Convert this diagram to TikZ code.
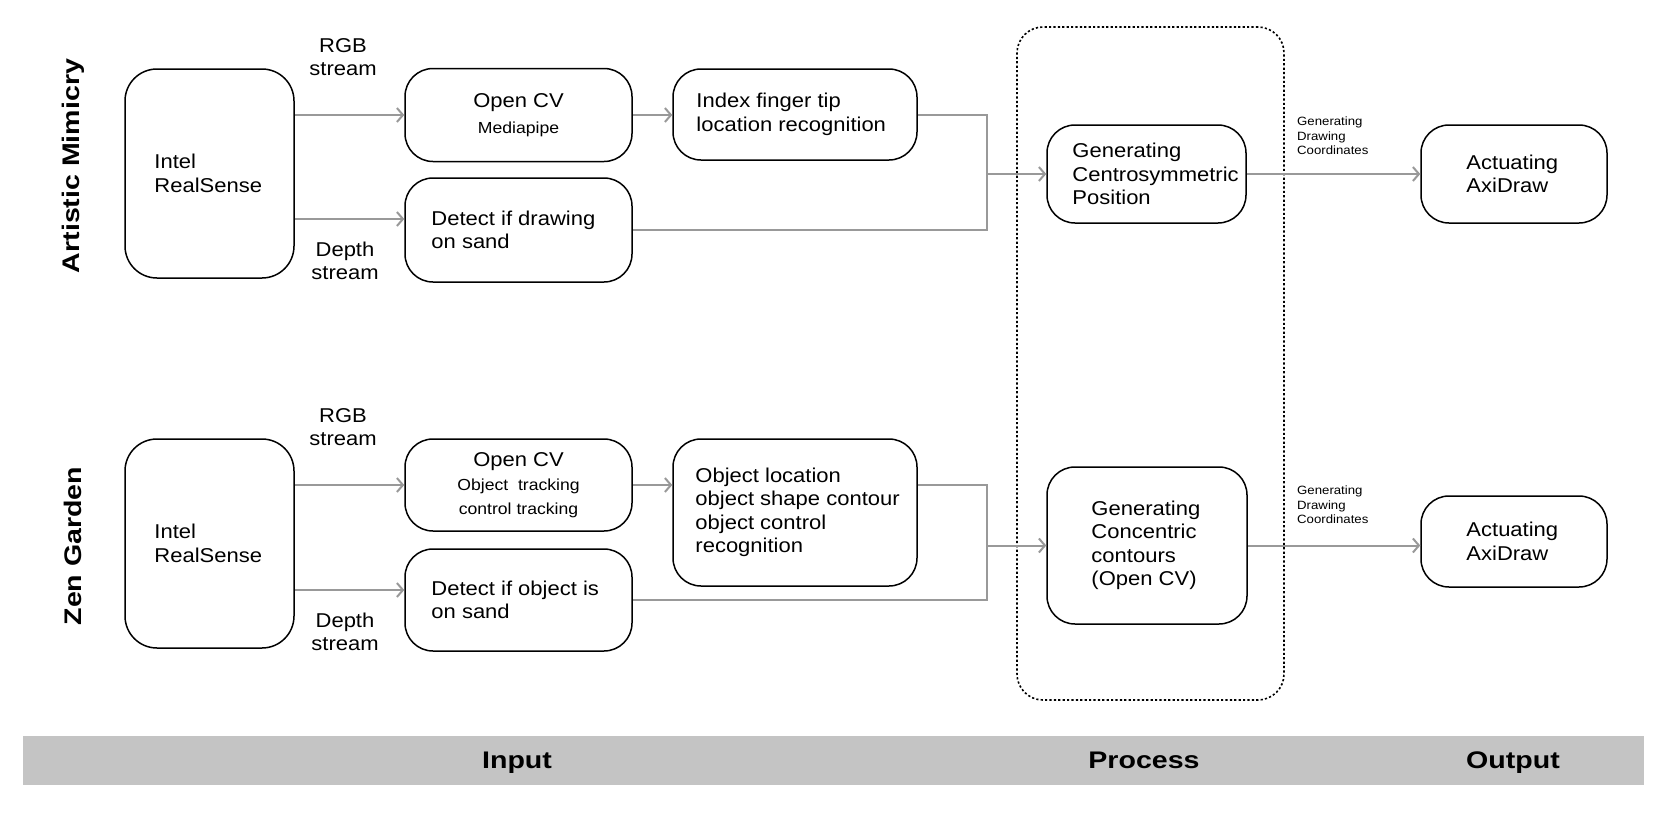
\documentclass[tikz,border=0pt]{standalone}
\usepackage{fontspec}
\setmainfont{Liberation Sans}[FakeStretch=1.1,BoldFeatures={FakeStretch=1.19}]
\usetikzlibrary{arrows.meta}
\definecolor{linegray}{HTML}{999999}
\definecolor{bargray}{HTML}{C4C4C4}
\newcommand\fmain{\fontsize{20}{23.5}\selectfont}
\newcommand\fsmall{\fontsize{16}{19}\selectfont}
\newcommand\ftiny{\fontsize{12}{14.5}\selectfont}
\newcommand\ftitle{\fontsize{24}{28}\selectfont}
\begin{document}
\begin{tikzpicture}[x=1pt,y=-1pt,
  box/.style={draw=black, line width=1.5pt, rounded corners=28pt, inner sep=0pt},
  txt/.style={inner sep=0pt, align=left, font=\fmain, anchor=west},
  ctxt/.style={inner sep=0pt, align=center},
  conn/.style={draw=linegray, line width=2pt},
  arr/.style={conn, -{Straight Barb[length=6pt,width=14pt]}},
  ttl/.style={inner sep=0pt, font=\ftitle\bfseries}
]
\useasboundingbox (0,0) rectangle (1666,830);

% process frame
\node[draw, line width=1.6pt, dash pattern=on 2.2pt off 2.2pt, rounded corners=26pt,
      minimum width=267, minimum height=673, inner sep=0pt] (proc) at (1150.5,363.5) {};

% titles
\node[ttl, rotate=90] (tA) at (73,166) {Artistic Mimicry};
\node[ttl, rotate=90] (tB) at (73,546) {Zen Garden};

% ---------- top row ----------
\node[box, minimum width=169, minimum height=209, rounded corners=32pt] (intelA) at (209.5,173.5) {};
\node[txt] (intelAt) at ([xshift=30]intelA.west) {Intel\\RealSense};
\node[box, minimum width=227, minimum height=93] (cvA) at (518.5,115) {};
\node[ctxt, font=\fmain] (cvAt) at (cvA) {Open CV\\[3pt]{\fsmall Mediapipe}};
\node[box, minimum width=227, minimum height=104] (detA) at (518.5,230) {};
\node[txt] (detAt) at ([xshift=27]detA.west) {Detect if drawing\\on sand};
\node[box, minimum width=244, minimum height=91] (idxA) at (795,114.5) {};
\node[txt] (idxAt) at ([xshift=24]idxA.west) {Index finger tip\\location recognition};
\node[box, minimum width=199, minimum height=98] (genA) at (1146.5,174) {};
\node[txt] (genAt) at ([xshift=26]genA.west) {Generating\\Centrosymmetric\\Position};
\node[box, minimum width=186, minimum height=98] (actA) at (1514,174) {};
\node[txt] (actAt) at ([xshift=46]actA.west) {Actuating\\AxiDraw};

\node[ctxt, font=\fmain] (rgbA) at (343,57) {RGB\\stream};
\node[ctxt, font=\fmain] (depA) at (345,261) {Depth\\stream};
\node[txt, font=\ftiny] (gdcA) at (1297,136) {Generating\\Drawing\\Coordinates};

\coordinate (dA) at ([yshift=11]detA.west);
\draw[arr] (intelA.east |- cvA.west) -- (cvA.west);
\draw[arr] (intelA.east |- dA) -- (dA);
\draw[arr] (cvA.east) -- (cvA.east -| idxA.west);
\coordinate (jA) at ([xshift=-59]genA.west);
\draw[conn] (idxA.east) -- (idxA.east -| jA) -- (detA.east -| jA) -- (detA.east);
\draw[arr] (jA) -- (genA.west);
\draw[arr] (genA.east) -- (actA.west);

% ---------- bottom row ----------
\node[box, minimum width=169, minimum height=209, rounded corners=32pt] (intelB) at (209.5,543.5) {};
\node[txt] (intelBt) at ([xshift=30]intelB.west) {Intel\\RealSense};
\node[box, minimum width=227, minimum height=92] (cvB) at (518.5,485) {};
\node[ctxt, font=\fmain] (cvBt) at (cvB) {Open CV\\[1pt]{\fsmall Object~ tracking}\\{\fsmall control tracking}};
\node[box, minimum width=227, minimum height=102] (detB) at (518.5,600) {};
\node[txt] (detBt) at ([xshift=27]detB.west) {Detect if object is\\on sand};
\node[box, minimum width=244, minimum height=147] (objB) at (795,512.5) {};
\node[txt] (objBt) at ([xshift=23]objB.west) {Object location\\object shape contour\\object control\\recognition};
\node[box, minimum width=200, minimum height=157] (genB) at (1147,545.5) {};
\node[txt] (genBt) at ([xshift=45]genB.west) {Generating\\Concentric\\contours\\(Open CV)};
\node[box, minimum width=186, minimum height=91] (actB) at (1514,541.5) {};
\node[txt] (actBt) at ([xshift=46]actB.west) {Actuating\\AxiDraw};

\node[ctxt, font=\fmain] (rgbB) at (343,427) {RGB\\stream};
\node[ctxt, font=\fmain] (depB) at (345,632) {Depth\\stream};
\node[txt, font=\ftiny] (gdcB) at (1297,505) {Generating\\Drawing\\Coordinates};

\coordinate (dB) at ([yshift=10]detB.west);
\draw[arr] (intelB.east |- cvB.west) -- (cvB.west);
\draw[arr] (intelB.east |- dB) -- (dB);
\draw[arr] (cvB.east) -- (cvB.east -| objB.west);
\coordinate (jB) at ([xshift=-59]genB.west);
\draw[conn] (cvB.east -| objB.east) -- (cvB.east -| jB) -- (detB.east -| jB) -- (detB.east);
\draw[arr] (jB) -- (genB.west);
\draw[arr] (genB.east) -- (genB.east -| actB.west);

% ---------- bottom bar ----------
\node[fill=bargray, minimum width=1621, minimum height=49, inner sep=0pt] (bar) at (833.5,760.5) {};
\node[ttl, anchor=base] (inp) at (517,768) {Input};
\node[ttl, anchor=base] (prc) at (1144,768) {Process};
\node[ttl, anchor=base] (out) at (1513,768) {Output};
\end{tikzpicture}
\end{document}
